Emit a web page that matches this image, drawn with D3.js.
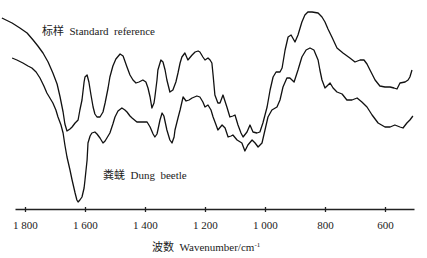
<!DOCTYPE html>
<html>
<head>
<meta charset="utf-8">
<script src="https://cdn.jsdelivr.net/npm/d3@7"></script>
<style>
	body { margin: 0; background: #fff; }
	#spectra-chart { width: 427px; height: 258px; }
	.axis path, .axis line { stroke: #222; }
</style>
</head>
<body>
<div id="spectra-chart"></div>
<script>

// Wavenumbers (cm-1) and transmittance (a.u.)
let standardWave = [1877, 1843, 1817, 1793, 1773, 1757, 1740, 1723, 1707, 1693, 1683, 1673, 1667, 1660, 1650, 1643, 1633, 1623, 1617, 1610,
	1603, 1600, 1593, 1587, 1580, 1573, 1567, 1560, 1550, 1540, 1533, 1523, 1517, 1507, 1497, 1483, 1473, 1460, 1450, 1440,
	1430, 1420, 1407, 1397, 1390, 1383, 1377, 1370, 1367, 1360, 1357, 1347, 1340, 1333, 1327, 1317, 1307, 1297, 1290, 1283,
	1277, 1267, 1257, 1243, 1233, 1223, 1217, 1207, 1200, 1190, 1183, 1177, 1173, 1167, 1157, 1150, 1140, 1127, 1117, 1107,
	1100, 1090, 1080, 1073, 1060, 1050, 1040, 1027, 1017, 1007, 993, 983, 973, 963, 950, 943, 933, 923, 913, 900,
	890, 877, 867, 857, 843, 823, 810, 800, 790, 777, 760, 740, 717, 700, 683, 670, 660, 650, 633, 617,
	600, 583, 570, 560, 550, 533, 523, 517, 510];
let standardValues = [192, 187, 182, 177, 170, 164, 157, 148, 137, 126, 113, 98, 86, 79, 81, 83, 87, 90, 100, 110,
	128, 133, 135, 128, 115, 103, 96, 93, 93, 98, 107, 122, 133, 144, 151, 156, 154, 143, 135, 130,
	127, 128, 130, 128, 122, 113, 102, 107, 113, 130, 140, 150, 148, 140, 130, 118, 120, 128, 137, 147,
	153, 157, 150, 155, 158, 159, 158, 153, 150, 152, 150, 147, 135, 115, 107, 107, 115, 103, 93, 94,
	95, 85, 77, 73, 78, 85, 78, 77, 78, 87, 103, 120, 133, 138, 138, 142, 160, 173, 175, 168,
	175, 188, 195, 198, 198, 197, 193, 188, 181, 173, 162, 157, 152, 148, 150, 150, 146, 140, 130, 124,
	123, 123, 122, 121, 127, 128, 130, 133, 140];

let beetleWave = [1843, 1827, 1807, 1790, 1777, 1763, 1750, 1737, 1727, 1717, 1707, 1697, 1690, 1680, 1673, 1667, 1660, 1650, 1643, 1633,
	1627, 1623, 1617, 1610, 1603, 1600, 1593, 1590, 1583, 1577, 1567, 1560, 1550, 1540, 1533, 1527, 1517, 1507, 1500, 1490,
	1477, 1467, 1460, 1450, 1443, 1427, 1410, 1393, 1383, 1373, 1367, 1360, 1357, 1350, 1343, 1337, 1327, 1317, 1310, 1303,
	1300, 1290, 1283, 1273, 1263, 1253, 1243, 1227, 1217, 1207, 1200, 1190, 1180, 1173, 1163, 1157, 1143, 1133, 1123, 1113,
	1107, 1093, 1077, 1067, 1057, 1043, 1033, 1023, 1010, 1000, 990, 977, 960, 950, 940, 927, 917, 903, 890, 877,
	863, 850, 837, 823, 817, 810, 800, 783, 773, 760, 743, 727, 710, 693, 677, 660, 643, 623, 600, 583,
	567, 550, 540, 527, 517, 507];
let beetleValues = [152, 150, 147, 144, 142, 138, 132, 124, 117, 112, 107, 100, 93, 85, 77, 65, 53, 40, 30, 17,
	10, 8, 10, 13, 22, 30, 50, 67, 74, 77, 78, 76, 72, 67, 69, 72, 77, 86, 93, 99,
	102, 100, 98, 94, 92, 88, 88, 88, 83, 76, 73, 76, 80, 90, 97, 94, 80, 70, 67, 73,
	80, 92, 100, 113, 109, 110, 112, 114, 113, 108, 103, 105, 100, 93, 85, 80, 85, 82, 73, 74,
	75, 70, 67, 59, 65, 70, 67, 63, 67, 80, 93, 100, 103, 110, 123, 132, 132, 128, 140, 153,
	160, 162, 160, 150, 140, 130, 122, 127, 122, 118, 116, 110, 110, 112, 108, 103, 95, 87, 83, 83,
	85, 83, 82, 87, 90, 94];

let tickValues = [1800, 1600, 1400, 1200, 1000, 800, 600];
let standardLabel = "标样  Standard  reference";
let beetleLabel = "粪蜣  Dung  beetle";
let xTitle = "波数  Wavenumber/cm";

const FONT = "'Liberation Serif', 'DejaVu Serif', 'Noto Sans CJK SC', serif";


class SpectraChart {

	constructor(parentElement) {
		this.parentElement = parentElement;
		this.initVis();
	}

	initVis() {
		let vis = this;

		vis.width = 427;
		vis.height = 258;

		vis.svg = d3.select("#" + vis.parentElement).append("svg")
			.attr("width", vis.width)
			.attr("height", vis.height);

		// Scales
		vis.x = d3.scaleLinear()
			.domain([1833.3, 503.3])
			.range([15, 414]);

		vis.y = d3.scaleLinear()
			.domain([0, 200])
			.range([210, 10]);

		vis.xAxis = d3.axisBottom()
			.scale(vis.x)
			.tickValues(tickValues)
			.tickSizeInner(3)
			.tickSizeOuter(0)
			.tickPadding(9)
			.tickFormat(d => d >= 1000 ? Math.floor(d / 1000) + " " + String(d % 1000).padStart(3, "0") : d);

		vis.line = d3.line()
			.x(d => vis.x(d.wave))
			.y(d => vis.y(d.value));

		vis.wrangleData();
	}

	wrangleData() {
		let vis = this;

		vis.standard = standardWave.map((w, i) => ({wave: w, value: standardValues[i]}));
		vis.beetle = beetleWave.map((w, i) => ({wave: w, value: beetleValues[i]}));

		vis.updateVis();
	}

	updateVis() {
		let vis = this;

		vis.svg.selectAll(".spectrum")
			.data([vis.standard, vis.beetle])
			.enter().append("path")
			.attr("class", "spectrum")
			.attr("d", vis.line)
			.attr("fill", "none")
			.attr("stroke", "#111")
			.attr("stroke-width", 1.3)
			.attr("stroke-linejoin", "round");

		let axisG = vis.svg.append("g")
			.attr("class", "x-axis axis")
			.attr("transform", "translate(0,209)")
			.call(vis.xAxis)
			.attr("font-family", FONT)
			.attr("font-size", 11);

		axisG.select(".domain").attr("stroke-width", 1.5);
		axisG.selectAll(".tick line").attr("y1", -2).attr("stroke-width", 1.3);
		axisG.selectAll(".tick text").attr("fill", "#222");

		// Series labels
		vis.svg.append("text")
			.attr("x", 42)
			.attr("y", 35)
			.attr("font-family", FONT)
			.attr("font-size", 11)
			.attr("fill", "#222")
			.attr("xml:space", "preserve")
			.text(standardLabel);

		vis.svg.append("text")
			.attr("x", 103)
			.attr("y", 179)
			.attr("font-family", FONT)
			.attr("font-size", 11)
			.attr("fill", "#222")
			.attr("xml:space", "preserve")
			.text(beetleLabel);

		// Axis title
		let title = vis.svg.append("text")
			.attr("x", 152)
			.attr("y", 251)
			.attr("font-family", FONT)
			.attr("font-size", 11)
			.attr("fill", "#222")
			.attr("xml:space", "preserve")
			.text(xTitle);

		title.append("tspan")
			.attr("dy", -4)
			.attr("font-size", 7)
			.text("-1");
	}
}

new SpectraChart("spectra-chart");

</script>
</body>
</html>
